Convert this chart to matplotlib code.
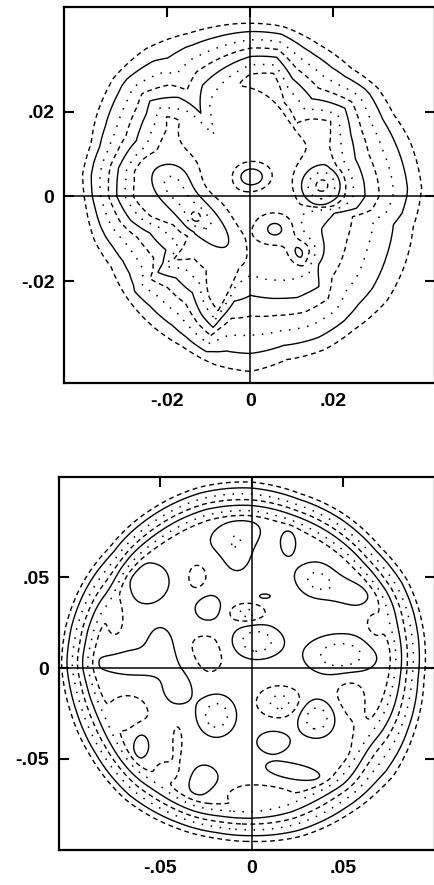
import numpy as np
import matplotlib
matplotlib.use("Agg")
import matplotlib.pyplot as plt

# ------------------------------------------------------------------
# TOP PANEL  (data units)
top_center = (0.0, 0.0)
# outermost (dashed) contour : polar angle (deg) and radius
top_out_ang = [2.9, 19, 29.5, 40, 51.4, 65.4, 79, 90, 102.2, 111.1, 125.8, 139.7,
               152.2, 162, 172.4, 183.8, 195.5, 206.4, 218.5, 229.2, 245.1, 257.7,
               270, 282.7, 296.4, 308.4, 323.4, 335.7, 349.5]
top_out_rad = [0.0413, 0.0406, 0.0396, 0.0400, 0.0389, 0.0396, 0.0410, 0.0410, 0.0411,
               0.0414, 0.0431, 0.0433, 0.0418, 0.0404, 0.0408, 0.0397, 0.0390, 0.0375,
               0.0382, 0.0386, 0.0391, 0.0407, 0.0414, 0.0396, 0.0404, 0.0402, 0.0411,
               0.0406, 0.0399]
# fifth (inner solid) contour : polar angle (deg) and radius
top_in_ang = [0, 6.8, 19.4, 31.3, 42.6, 57.4, 70, 79.2, 90, 113.8, 121.3, 126.5, 137,
              142, 154.4, 168, 180, 190.9, 199.7, 211.8, 216.7, 218.8, 227, 238.4,
              247.2, 253.8, 256.2, 261, 270, 295.3, 307.7, 315.8, 336, 349, 353.8]
top_in_rad = [0.0278, 0.0277, 0.0270, 0.0285, 0.0310, 0.0277, 0.0298, 0.0336, 0.0332,
              0.0293, 0.0258, 0.0296, 0.0332, 0.0319, 0.0305, 0.0325, 0.0322, 0.0295,
              0.0258, 0.0241, 0.0264, 0.0287, 0.0264, 0.0268, 0.0304, 0.0323, 0.0297,
              0.0255, 0.0245, 0.0276, 0.0278, 0.0240, 0.0214, 0.0209, 0.0260]
top_plateau = 1.58
# interior features: centre x, centre y, width x, width y, tilt (deg), height
top_fx = [0.0003, 0.0170, 0.0075, 0.0060, 0.0125, -0.0125, -0.0185, -0.0134, -0.0060,
          0.0040, -0.0075]
top_fy = [0.0046, 0.0025, -0.0110, -0.0078, -0.0130, -0.0045, 0.0040, -0.0050, 0.0170,
          0.0020, 0.0045]
top_fsx = [0.0028, 0.0036, 0.0065, 0.0035, 0.0025, 0.0082, 0.0032, 0.0013, 0.0070,
           0.0120, 0.0030]
top_fsy = [0.0020, 0.0032, 0.0085, 0.0030, 0.0022, 0.0027, 0.0032, 0.0013, 0.0055,
           0.0120, 0.0030]
top_fang = [0, 20, 0, 0, 0, -44, 0, 0, 15, 0, 0]
top_famp = [0.55, 0.85, -0.30, 0.60, 0.55, 0.55, 0.30, 0.30, -0.25, -0.15, -0.12]

# ------------------------------------------------------------------
# BOTTOM PANEL
bot_center = (-0.005, 0.003)
bot_out_ang = [9.2, 26.8, 40.2, 56, 71.3, 87.1, 103.7, 121.3, 138.9, 153.6, 168.5, 182.4,
               196.5, 211.9, 229.8, 247, 261.5, 272.9, 288.2, 305.3, 322.8, 337.4, 354.5]
bot_out_rad = [0.1004, 0.1008, 0.0986, 0.0988, 0.0982, 0.0995, 0.0994, 0.0980, 0.0968,
               0.0979, 0.0988, 0.0988, 0.0980, 0.0979, 0.0989, 0.0980, 0.0977, 0.0985,
               0.1007, 0.1016, 0.1037, 0.1014, 0.0996]
bot_in_ang = [9.2, 26.8, 40.2, 56, 71.3, 87.1, 103.7, 121.3, 138.9, 153.6, 168.5, 182.4,
              196.5, 211.9, 229.8, 247, 261.5, 272.9, 288.2, 305.3, 322.8, 337.4, 354.5]
bot_in_rad = [0.0870, 0.0876, 0.0860, 0.0858, 0.0856, 0.0864, 0.0866, 0.0853, 0.0842,
              0.0852, 0.0866, 0.0866, 0.0855, 0.0852, 0.0860, 0.0853, 0.0852, 0.0858,
              0.0866, 0.0862, 0.0870, 0.0862, 0.0864]
bot_plateau = 1.6
bot_fx = [-0.009, 0.0199, -0.057, 0.049, 0.035, 0.0071, -0.024, 0.0026, -0.065, -0.050,
          -0.0406, 0.049, -0.0193, 0.0117, 0.0355, -0.0606, -0.0275, 0.0227,
          -0.030, -0.0028, 0.0154, 0.0533, -0.0407, -0.0247, -0.068,
          0.000, -0.045, 0.064, -0.075, 0.068, -0.008]
bot_fy = [0.073, 0.0687, 0.0467, 0.043, 0.049, 0.0396, 0.033, 0.0147, 0.003, 0.013,
          -0.011, 0.007, -0.026, -0.0407, -0.0276, -0.0424, -0.0633, -0.0571,
          0.0494, 0.0302, -0.0187, -0.0148, -0.041, 0.0082, -0.025,
          -0.070, -0.058, -0.045, 0.035, 0.025, 0.062]
bot_fsx = [0.0115, 0.0034, 0.0102, 0.017, 0.0068, 0.0025, 0.0064, 0.0088, 0.017, 0.0055,
           0.0068, 0.0126, 0.0066, 0.0076, 0.0066, 0.0038, 0.0089, 0.0127,
           0.0047, 0.0061, 0.0075, 0.0068, 0.0021, 0.0085, 0.010,
           0.020, 0.008, 0.008, 0.005, 0.005, 0.0060]
bot_fsy = [0.0065, 0.0055, 0.0093, 0.0055, 0.0068, 0.0010, 0.0068, 0.0060, 0.006, 0.0076,
           0.0076, 0.0072, 0.0072, 0.0051, 0.0066, 0.0064, 0.0089, 0.0038,
           0.0068, 0.0032, 0.0052, 0.0097, 0.0076, 0.010, 0.0085,
           0.005, 0.006, 0.012, 0.015, 0.010, 0.0080]
bot_fang = [15, 0, 30, -20, 0, 0, 0, 0, 0, 0,
            0, 0, 0, 0, 0, 0, 0, -10,
            0, 0, 0, 0, 0, 0, 0,
            0, 0, 0, 0, 0, 0]
bot_famp = [0.3, 0.3, 0.3, 0.3, 0.3, 0.3, 0.3, 0.6, 0.3, 0.3,
            0.3, 0.6, 0.6, 0.3, 0.6, 0.3, 0.3, 0.3,
            -0.2, -0.45, -0.45, -0.2, -0.2, -0.2, -0.2,
            -0.2, -0.2, -0.2, -0.2, -0.2, 0.25]

top_ticks = [-0.02, 0.0, 0.02]
top_ticklabels = ["-.02", "0", ".02"]
bot_ticks = [-0.05, 0.0, 0.05]
bot_ticklabels = ["-.05", "0", ".05"]

# contour levels, grouped by line style (cycle dashed / solid / dotted)
levels_dashed = [0.0, 0.75, 1.5, 2.25]
levels_solid = [0.25, 1.0, 1.75, 2.5]
levels_dotted = [0.5, 1.25, 2.0, 2.75]
DASH = (0, (3.5, 2.6))
DOT = (0, (1.0, 5.0))


def field(xl, yl, center, oa, orad, ia, irad, plateau, fx, fy, fsx, fsy, fang, famp):
    x = np.linspace(xl[0], xl[1], 560)
    y = np.linspace(yl[0], yl[1], 560)
    X, Y = np.meshgrid(x, y)
    dx, dy = X - center[0], Y - center[1]
    r = np.hypot(dx, dy)
    th = np.degrees(np.arctan2(dy, dx)) % 360
    ro = np.interp(th, oa, orad, period=360)
    ri = np.interp(th, ia, irad, period=360)
    lin = (ro - r) / (ro - ri)
    k = 0.04
    F = plateau - k * np.logaddexp(0, (plateau - lin) / k)
    for cx, cy, sx, sy, a, A in zip(fx, fy, fsx, fsy, fang, famp):
        t = np.radians(a)
        u = (X - cx) * np.cos(t) + (Y - cy) * np.sin(t)
        v = -(X - cx) * np.sin(t) + (Y - cy) * np.cos(t)
        F = F + A * np.exp(-0.5 * ((u / sx) ** 2 + (v / sy) ** 2))
    return X, Y, F


fig = plt.figure(figsize=(4.35, 8.85), dpi=100)
W, H = 435.0, 885.0

panels = [
    dict(rect=(64, 7, 435, 383), xl=(-0.04494, 0.04446), yl=(-0.04414, 0.04485),
         center=top_center, oa=top_out_ang, orad=top_out_rad, ia=top_in_ang, irad=top_in_rad,
         plateau=top_plateau, f=(top_fx, top_fy, top_fsx, top_fsy, top_fang, top_famp),
         ticks=top_ticks, labels=top_ticklabels),
    dict(rect=(59, 477, 435, 850), xl=(-0.1055, 0.1002), yl=(-0.1001, 0.1052),
         center=bot_center, oa=bot_out_ang, orad=bot_out_rad, ia=bot_in_ang, irad=bot_in_rad,
         plateau=bot_plateau, f=(bot_fx, bot_fy, bot_fsx, bot_fsy, bot_fang, bot_famp),
         ticks=bot_ticks, labels=bot_ticklabels),
]

for p in panels:
    l, t, rgt, b = p["rect"]
    ax = fig.add_axes([l / W, 1 - b / H, (rgt - l) / W, (b - t) / H])
    X, Y, F = field(p["xl"], p["yl"], p["center"], p["oa"], p["orad"], p["ia"], p["irad"],
                    p["plateau"], *p["f"])
    ax.contour(X, Y, F, levels=levels_dashed, colors="black", linewidths=1.0,
               linestyles=[DASH])
    ax.contour(X, Y, F, levels=levels_solid, colors="black", linewidths=1.0,
               linestyles="solid")
    ax.contour(X, Y, F, levels=levels_dotted, colors="black", linewidths=1.1,
               linestyles=[DOT])
    ax.axhline(0, color="black", lw=1.1)
    ax.axvline(0, color="black", lw=1.1)
    ax.set_xlim(*p["xl"])
    ax.set_ylim(*p["yl"])
    ax.set_xticks(p["ticks"])
    ax.set_xticklabels(p["labels"])
    ax.set_yticks(p["ticks"])
    ax.set_yticklabels(p["labels"])
    ax.tick_params(axis="x", direction="in", top=True, bottom=False, labelbottom=True,
                   length=7, width=1.5, pad=7)
    ax.tick_params(axis="y", direction="in", left=True, right=True, length=7, width=1.5, pad=7)
    for lab in ax.get_xticklabels() + ax.get_yticklabels():
        lab.set_fontfamily("Liberation Sans")
        lab.set_fontweight("bold")
        lab.set_fontsize(14)
    for s in ax.spines.values():
        s.set_linewidth(1.6)

fig.savefig("out.png", dpi=100)
